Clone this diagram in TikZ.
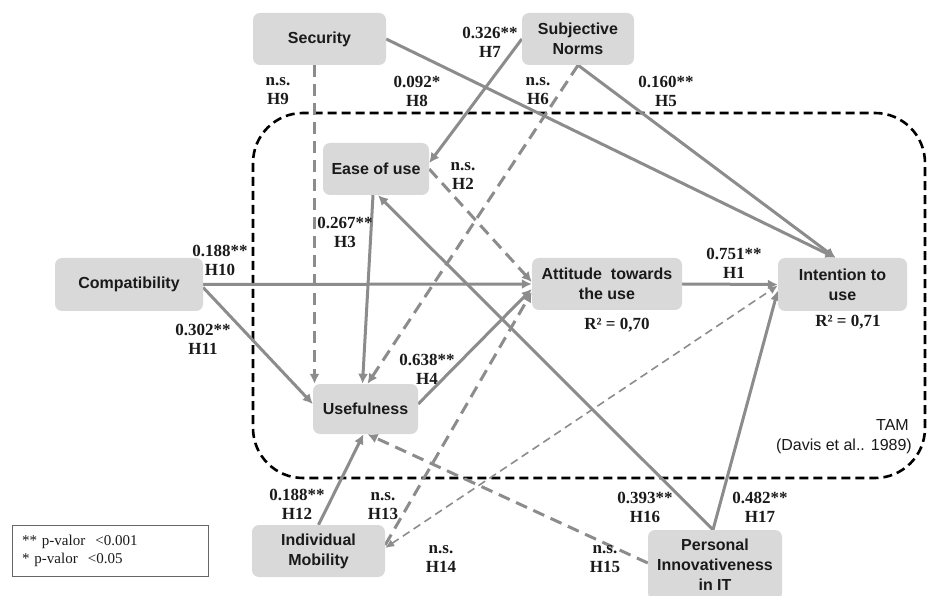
\documentclass[tikz,border=0pt]{standalone}
\usepackage{fontspec}
\setmainfont{Liberation Serif}
\newfontfamily\arialf{Liberation Sans}
\usetikzlibrary{arrows.meta,calc}
\pgfdeclarelayer{bg}
\pgfsetlayers{bg,main}
\definecolor{boxgray}{HTML}{D9D9D9}
\definecolor{linegray}{HTML}{8C8C8C}
\definecolor{txt}{HTML}{1A1A1A}
\tikzset{
 box/.style={draw=none, fill=boxgray, rounded corners=7pt, align=center, text=txt,
   font=\arialf\bfseries\fontsize{16}{20}\selectfont, inner sep=0pt},
 lbl/.style={align=center, text=txt, font=\bfseries\fontsize{17}{19}\selectfont, inner sep=0pt},
 tamtxt/.style={font=\arialf\fontsize{16}{19}\selectfont, text=txt, inner sep=0pt, anchor=east},
 conn/.style={draw=linegray, line width=3pt, -{Latex[length=10pt,width=10pt]}},
 dconn/.style={conn, dash pattern=on 12pt off 7pt},
 tconn/.style={draw=linegray, line width=1.6pt, dash pattern=on 8pt off 5pt,
   {Latex[length=9pt,width=8pt]}-{Latex[length=9pt,width=8pt]}},
 tamline/.style={draw=black, line width=2.6pt, dash pattern=on 9pt off 5pt, rounded corners=50pt},
 legbox/.style={draw=black!60, line width=0.8pt, minimum width=196pt, minimum height=51pt,
   align=left, text width=176pt, font=\fontsize{15}{18}\selectfont, text=txt}
}
\begin{document}
\begin{tikzpicture}[x=1pt,y=-1pt]
\useasboundingbox (0,0) rectangle (927,596);

% nodes
\node[box, minimum width=133pt, minimum height=52pt] (sec) at (319.5,39) {Security};
\node[box, minimum width=112pt, minimum height=52pt] (sn) at (578,39) {Subjective\\Norms};
\node[box, minimum width=106pt, minimum height=52pt] (ease) at (376,169) {Ease of use};
\node[box, minimum width=148pt, minimum height=53pt] (comp) at (129,284.5) {Compatibility};
\node[box, minimum width=150pt, minimum height=52pt] (att) at (607,284) {Attitude\ \ towards\\the use};
\node[box, minimum width=129pt, minimum height=53pt] (int) at (842.5,284.5) {Intention to\\use};
\node[box, minimum width=105pt, minimum height=50pt] (use) at (365.5,409) {Usefulness};
\node[box, minimum width=133pt, minimum height=52pt] (im) at (318.5,551) {Individual\\Mobility};
\node[box, minimum width=134pt, minimum height=70pt] (pi) at (715,565) {Personal\\Innovativeness\\in IT};

\begin{pgfonlayer}{bg}
% TAM region
\draw[tamline] (253,113) rectangle (925,478);
% connectors
\draw[conn] (sec.east) -- ([xshift=-7pt]int.north);
\draw[conn] (sn.south) -- ([xshift=-7pt]int.north);
\draw[conn] (sn.west) -- ([yshift=6pt]ease.east);
\draw[dconn] (sn.south) -- ([xshift=2pt]use.north);
\draw[dconn] ([xshift=-5pt]sec.south) -- ([xshift=-5pt]sec.south |- use.north);
\draw[dconn] (ease.east) -- ([yshift=2pt]att.west);
\draw[conn] ([xshift=-3pt]ease.south) -- ([xshift=-3pt]use.north);
\draw[conn] (comp.east) -- (att.west);
\draw[conn] ([yshift=-3pt]comp.east) -- ([yshift=5pt]use.west);
\draw[conn] ([yshift=5pt]use.east) -- ([yshift=-5pt]att.west);
\draw[conn] (att.east) -- (int.west);
\draw[conn] (im.north) -- ([xshift=-2pt]use.south);
\draw[dconn] ([yshift=6pt]im.east) -- ([yshift=-8pt]att.west);
\draw[tconn] ([yshift=3pt]im.east) -- ([yshift=-1pt]int.west);
\draw[dconn] ([yshift=2pt]pi.west) -- ([xshift=2pt]use.south);
\draw[conn] ([xshift=-2pt]pi.north) -- ([xshift=2pt]ease.south);
\draw[conn] ([xshift=-2pt]pi.north) -- ([yshift=-6pt]int.west);
\end{pgfonlayer}

% labels
\node[lbl] (l7) at (490,42.5) {0.326**\\H7};
\node[lbl] (l9) at (278,91) {n.s.\\H9};
\node[lbl] (l8) at (417,91) {0.092*\\H8};
\node[lbl] (l6) at (538,91) {n.s.\\H6};
\node[lbl] (l5) at (666,91) {0.160**\\H5};
\node[lbl] (l2) at (463,176) {n.s.\\H2};
\node[lbl] (l3) at (345,232) {0.267**\\H3};
\node[lbl] (l10) at (220,260) {0.188**\\H10};
\node[lbl] (l11) at (203,339) {0.302**\\H11};
\node[lbl] (l4) at (427,369) {0.638**\\H4};
\node[lbl] (l1) at (734,263.5) {0.751**\\H1};
\node[lbl] (l12) at (297,504.5) {0.188**\\H12};
\node[lbl] (l13) at (383,506) {n.s.\\H13};
\node[lbl] (l14) at (441,559) {n.s.\\H14};
\node[lbl] (l15) at (605,559) {n.s.\\H15};
\node[lbl] (l16) at (645,507.5) {0.393**\\H16};
\node[lbl] (l17) at (760,507.5) {0.482**\\H17};
\node[lbl] (r1) at (617,325) {R² = 0,70};
\node[lbl] (r2) at (848,322) {R² = 0,71};
\node[tamtxt] (tam) at (909,425) {TAM};
\node[tamtxt] (davis) at (912,446) {(Davis et al.. 1989)};
\node[legbox] (leg) at (110,550.5) {** p-valor\ \ <0.001\\{*} p-valor\ \ <0.05};
\end{tikzpicture}
\end{document}
